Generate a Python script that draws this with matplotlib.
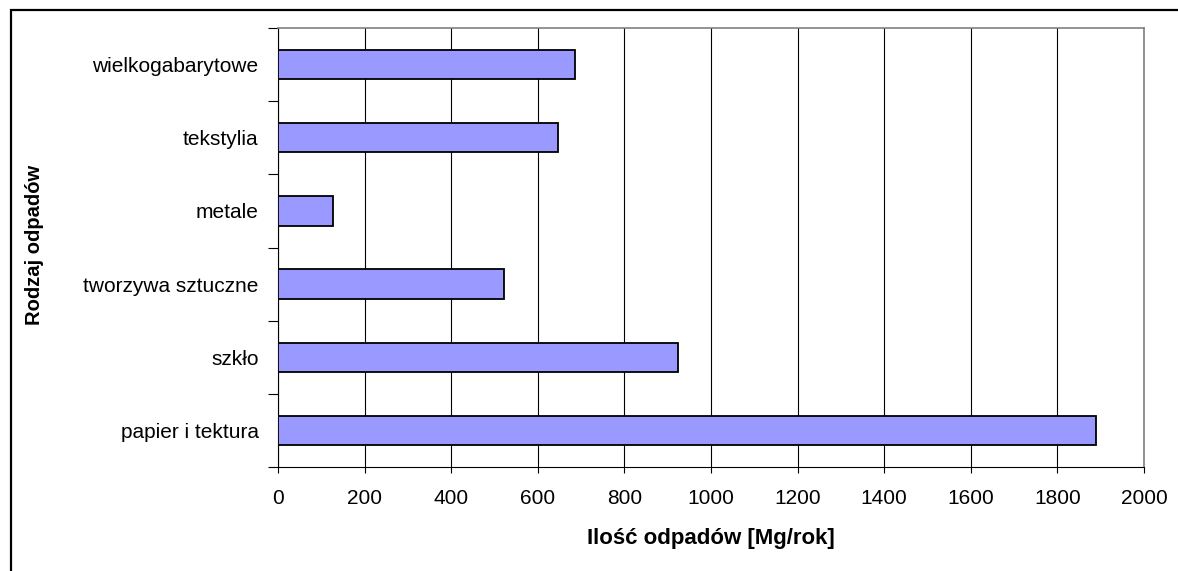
import matplotlib.pyplot as plt
import numpy as np
from matplotlib.patches import Rectangle

plt.rcParams['font.family'] = ['Liberation Sans', 'DejaVu Sans']

categories = ["papier i tektura", "szkło", "tworzywa sztuczne", "metale",
              "tekstylia", "wielkogabarytowe"]
values = [1890, 923, 522, 126, 647, 686]
xticks = [0, 200, 400, 600, 800, 1000, 1200, 1400, 1600, 1800, 2000]

fig = plt.figure(figsize=(11.78, 5.71), dpi=100)
ax = fig.add_axes([278 / 1178, 1 - 467 / 571, (1144 - 278) / 1178, (467 - 28) / 571])

pos = np.arange(len(categories))
ax.barh(pos, values, height=0.4, color='#9999ff', edgecolor='black', linewidth=1.3, zorder=3)

ax.set_xlim(0, 2000)
ax.set_ylim(-0.5, len(categories) - 0.5)
ax.set_xticks(xticks)
ax.set_xticklabels([str(t) for t in xticks], fontsize=15)
ax.xaxis.grid(True, color='black', linewidth=0.8, zorder=0)

# category labels in the middle, ticks on the boundaries
ax.set_yticks(pos)
ax.set_yticklabels(categories, fontsize=15)
ax.tick_params(axis='y', length=0, pad=14)
ax.set_yticks(np.arange(-0.5, len(categories)), minor=True)
ax.tick_params(axis='y', which='minor', length=7, width=0.8, direction='out')
ax.tick_params(axis='x', length=4.5, width=0.8, direction='out', pad=11)

for s in ['top', 'right']:
    ax.spines[s].set_color('#808080')
    ax.spines[s].set_linewidth(1.2)
for s in ['left', 'bottom']:
    ax.spines[s].set_linewidth(0.8)

ax.set_xlabel("Ilość odpadów [Mg/rok]", fontsize=16, fontweight='bold', labelpad=15)
fig.text(35 / 1178, 1 - 245 / 571, "Rodzaj odpadów", rotation=90, fontsize=14.5,
         fontweight='bold', ha='center', va='center')

# outer chart border (extends past right and bottom edges)
fig.patches.append(Rectangle((11 / 1178, -0.1), 1.2, 1 - 10 / 571 + 0.1,
                             transform=fig.transFigure, fill=False,
                             edgecolor='black', linewidth=1.6))

fig.savefig("out.png", dpi=100)
